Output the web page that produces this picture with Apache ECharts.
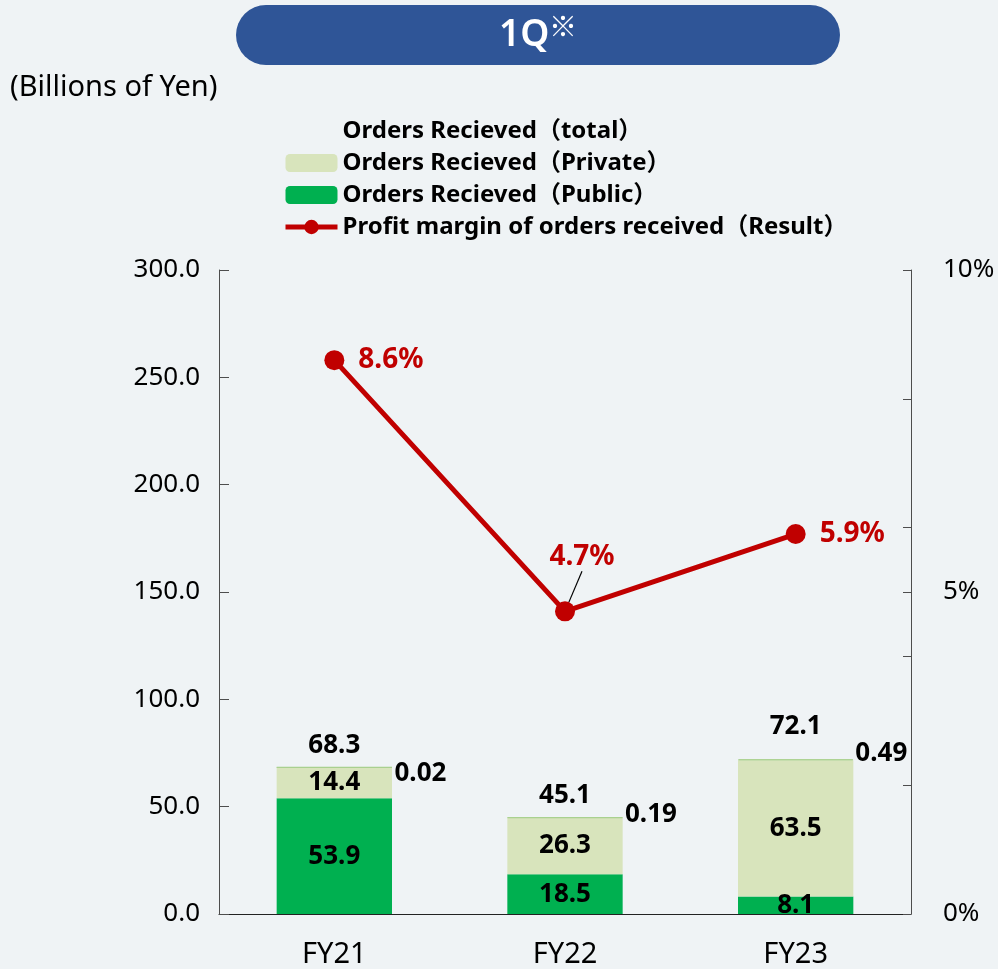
<!DOCTYPE html>
<html>
<head>
<meta charset="utf-8">
<script src="https://cdn.jsdelivr.net/npm/echarts@6/dist/echarts.min.js"></script>
<style>
  html, body { margin: 0; padding: 0; background: #eff3f5; }
  #chart { width: 998px; height: 969px; }
</style>
</head>
<body>
<div id="chart"></div>
<script>
// data
const years = ['FY21', 'FY22', 'FY23']
const publicOrders = [53.9, 18.5, 8.1]
const privateOrders = [14.4, 26.3, 63.5]
const otherOrders = [0.02, 0.19, 0.49]
const totalOrders = [68.3, 45.1, 72.1]
const profitMargin = [0.086, 0.047, 0.059]
const leftTicks = [0, 50, 100, 150, 200, 250, 300]
const rightTickValues = [0, 0.02, 0.04, 0.05, 0.06, 0.08, 0.1]
const rightLabelValues = [0, 0.05, 0.1]

const FONT = "'Noto Sans', 'Noto Sans CJK JP', sans-serif"
const names = {
  total: 'Orders Recieved（total）',
  priv: 'Orders Recieved（Private）',
  pub: 'Orders Recieved（Public）',
  margin: 'Profit margin of orders received（Result）'
}

const barLabel = {
  show: true,
  position: 'inside',
  color: '#000',
  fontFamily: FONT,
  fontSize: 26,
  fontWeight: 'bold'
}

// small nudges so labels sit where the original puts them
const otherLabelShift = [6, -3, -6]

const chart = echarts.init(document.getElementById('chart'))
const option = {
  backgroundColor: '#eff3f5',
  textStyle: { fontFamily: FONT },
  graphic: [
    {
      type: 'rect',
      left: 236,
      top: 5,
      shape: { width: 604, height: 60, r: 30 },
      style: { fill: '#2f5597' }
    },
    {
      type: 'text',
      left: 499,
      top: 17,
      style: { text: '1Q', fill: '#fff', font: "600 37px 'Noto Sans'" }
    },
    {
      type: 'text',
      left: 549,
      top: 12,
      style: { text: '※', fill: '#fff', font: "28px 'Noto Sans CJK JP'" }
    },
    {
      type: 'text',
      left: 10,
      top: 73,
      style: { text: '(Billions of Yen)', fill: '#000', font: "29px 'Noto Sans'" }
    }
  ],
  legend: {
    orient: 'vertical',
    left: 283,
    top: 119,
    padding: 0,
    itemWidth: 52,
    itemHeight: 18,
    itemGap: 8,
    textStyle: {
      color: '#000',
      fontFamily: FONT,
      fontSize: 24,
      fontWeight: 'bold',
      lineHeight: 24
    },
    data: [
      names.total,
      names.priv,
      names.pub,
      { name: names.margin, lineStyle: { width: 5 } }
    ]
  },
  grid: { left: 219, right: 87, top: 270, bottom: 54 },
  xAxis: {
    type: 'category',
    data: years,
    axisLine: { lineStyle: { color: '#222', width: 1 } },
    axisTick: { inside: true, length: 10, lineStyle: { color: '#222' } },
    axisLabel: { color: '#000', fontSize: 29, margin: 26, fontFamily: FONT }
  },
  yAxis: [
    {
      type: 'value',
      min: 0,
      max: 300,
      interval: 50,
      splitLine: { show: false },
      axisLine: { show: true, lineStyle: { color: '#4d4d4d' } },
      axisTick: { show: true, inside: true, length: 10, lineStyle: { color: '#4d4d4d' } },
      axisLabel: {
        color: '#000',
        fontSize: 26,
        margin: 19,
        fontFamily: FONT,
        customValues: leftTicks,
        formatter: v => v.toFixed(1)
      }
    },
    {
      type: 'value',
      min: 0,
      max: 0.1,
      splitLine: { show: false },
      axisLine: { show: true, lineStyle: { color: '#4d4d4d' } },
      axisTick: {
        show: true,
        inside: true,
        length: 8,
        customValues: rightTickValues,
        lineStyle: { color: '#4d4d4d' }
      },
      axisLabel: {
        color: '#000',
        fontSize: 26,
        margin: 32,
        fontFamily: FONT,
        customValues: rightLabelValues,
        formatter: v => Math.round(v * 100) + '%'
      }
    }
  ],
  series: [
    {
      name: names.pub,
      type: 'bar',
      stack: 'orders',
      barWidth: '50%',
      data: publicOrders,
      itemStyle: { color: '#00b050' },
      label: barLabel
    },
    {
      name: names.priv,
      type: 'bar',
      stack: 'orders',
      data: privateOrders,
      itemStyle: { color: '#d8e4bc' },
      label: barLabel
    },
    {
      name: 'other',
      type: 'bar',
      stack: 'orders',
      data: otherOrders.map((v, i) => ({ value: v, label: { offset: [0, otherLabelShift[i]] } })),
      itemStyle: { color: '#a9d08e', borderColor: '#a9d08e', borderWidth: 1 },
      label: Object.assign({}, barLabel, { position: 'right', distance: 2 })
    },
    {
      name: names.total,
      type: 'scatter',
      symbol: 'rect',
      symbolSize: 1,
      data: totalOrders.map((v, i) => i === 2 ? { value: v, label: { distance: 19 } } : v),
      itemStyle: { color: 'rgba(0,0,0,0)', opacity: 1 },
      label: Object.assign({}, barLabel, { position: 'top', distance: 8 }),
      z: 5
    },
    {
      name: names.margin,
      type: 'line',
      yAxisIndex: 1,
      // only the FY22 label gets a leader line
      data: profitMargin.map((v, i) => i === 1 ? { value: v, labelLine: { show: true } } : v),
      symbol: 'circle',
      symbolSize: 20,
      lineStyle: { color: '#c00000', width: 5 },
      itemStyle: { color: '#c00000' },
      label: {
        show: true,
        position: 'right',
        distance: 14,
        color: '#c00000',
        fontFamily: FONT,
        fontSize: 28,
        fontWeight: 'bold',
        formatter: p => (p.value * 100).toFixed(1) + '%'
      },
      labelLine: {
        show: false,
        showAbove: true,
        length2: 0,
        lineStyle: { color: '#000', width: 1.2 }
      },
      labelLayout: p => p.dataIndex === 1
        ? { x: p.rect.x + p.rect.width / 2 + 17, y: p.rect.y - 30, align: 'center', verticalAlign: 'bottom' }
        : {},
      z: 10
    }
  ]
}
chart.setOption(option)
</script>
</body>
</html>
